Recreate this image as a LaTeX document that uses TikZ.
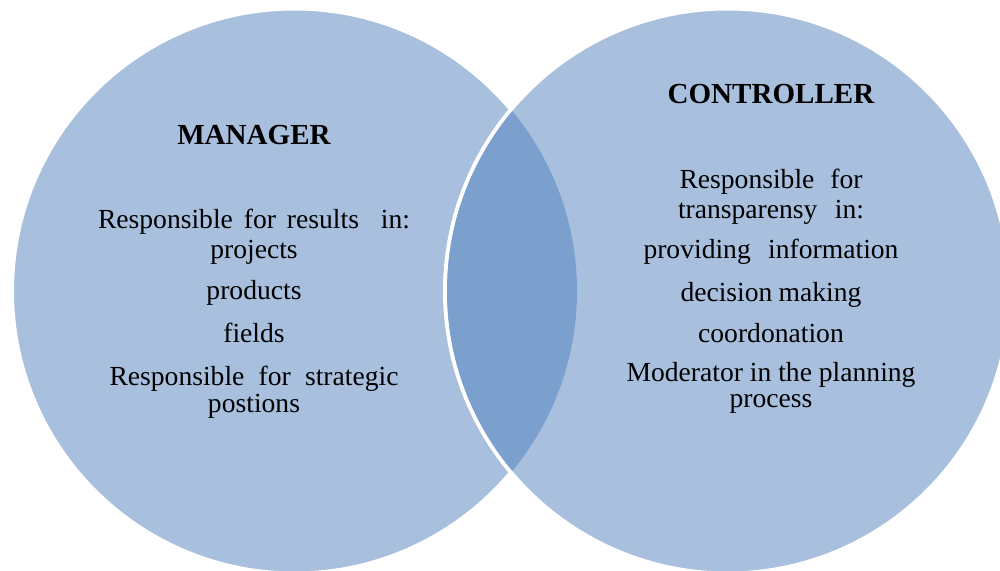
\documentclass[tikz,border=0pt]{standalone}
\usepackage{fontspec}
\setmainfont{Liberation Serif}
\definecolor{paleblue}{HTML}{A8C0DE}
\definecolor{overlapblue}{HTML}{7BA0CD}
\newlength\pxu
\setlength\pxu{0.75pt}
% a line stretched to a given width (in px) by its word spaces
\newcommand\spread[2]{\makebox[#1\pxu][s]{#2}}

\begin{document}
\begin{tikzpicture}[x=0.75pt, y=-0.75pt,
  disc/.style={fill=paleblue, draw=white, line width=3pt},
  heading/.style={font=\fontsize{21.8}{26}\selectfont\bfseries, anchor=base, inner sep=0pt},
  entry/.style={font=\fontsize{20.7}{25}\selectfont, anchor=base, inner sep=0pt}]
\useasboundingbox (0,0) rectangle (1000,571);
\clip (0,0) rectangle (1000,571);

% the two discs
\coordinate (cm) at (294.5,291);
\coordinate (cc) at (727.5,291);
\path[disc] (cm) circle[radius=282.5];
\path[disc] (cc) circle[radius=282.5];

% the overlap, inside the white rim of the right disc
\begin{scope}
  \clip (cm) circle[radius=282.5];
  \fill[overlapblue] (cc) circle[radius=280.5];
\end{scope}

% manager
\node[heading] (mgr) at (254,144) {MANAGER};
\node[entry] (m1) at (254,228) {\spread{312}{Responsible for results\ \ in:}};
\node[entry] (m2) at (254,258) {projects};
\node[entry] (m3) at (254,299) {products};
\node[entry] (m4) at (254,342) {fields};
\node[entry] (m5) at (254,385) {\spread{289}{Responsible for strategic}};
\node[entry] (m6) at (254,412) {postions};

% controller
\node[heading] (ctl) at (771,103) {CONTROLLER};
\node[entry] (c1) at (771,188) {\spread{183}{Responsible for}};
\node[entry] (c2) at (771,218) {\spread{186}{transparensy in:}};
\node[entry] (c3) at (771,258) {\spread{255}{providing information}};
\node[entry] (c4) at (771,301) {\spread{181}{decision making}};
\node[entry] (c5) at (771,342) {coordonation};
\node[entry] (c6) at (771,381) {\spread{289}{Moderator in the planning}};
\node[entry] (c7) at (771,407) {process};
\end{tikzpicture}
\end{document}
